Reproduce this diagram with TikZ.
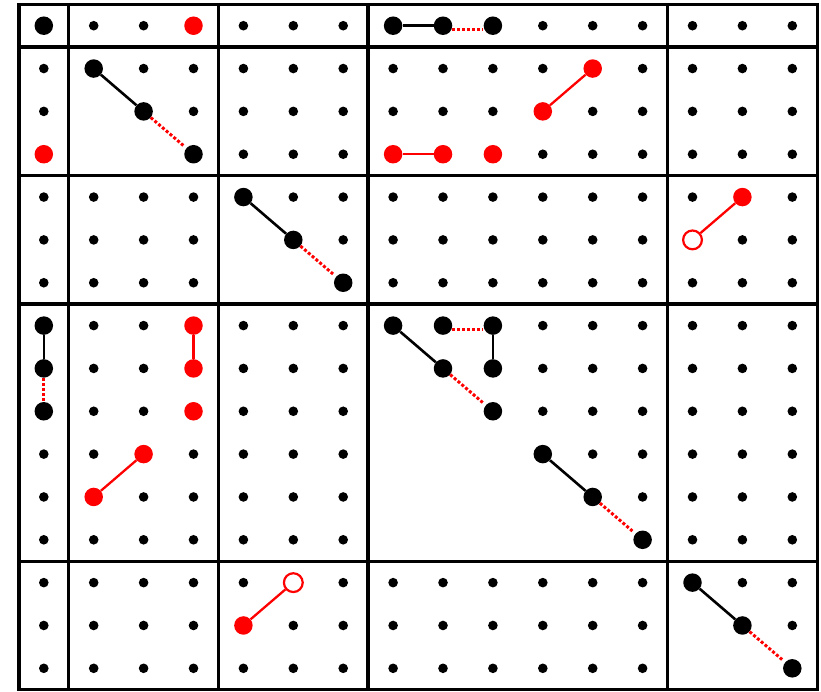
\documentclass[tikz,border=0pt]{standalone}
\usepackage{tikz}
\usetikzlibrary{positioning}
\definecolor{dotred}{HTML}{FF0000}

\begin{document}
\begin{tikzpicture}[
    x=49.9pt,y=-42.84pt,
    blk/.style={circle,fill=black,inner sep=0pt,minimum size=18.5pt},
    redd/.style={circle,fill=dotred,inner sep=0pt,minimum size=18.5pt},
    hollow/.style={circle,draw=dotred,fill=white,line width=2.2pt,inner sep=0pt,minimum size=18.8pt},
    link/.style={line width=2.6pt,draw=black},
    redlink/.style={line width=2.3pt,draw=dotred},
    dotlink/.style={line width=3pt,draw=dotred,dash pattern=on 3pt off 2pt},
    diagdot/.style={dotlink,shorten >=4pt},
    gridline/.style={line width=3.4pt,line cap=rect}
  ]
    \useasboundingbox (-0.8778,-0.6) rectangle (15.575,15.53);
    % small entries, lower part of diagonal blocks left empty
    \foreach \r in {0,...,15}{
      \foreach \c in {0,...,15}{
        \pgfmathtruncatemacro\br{(\r>=1)+(\r>=4)+(\r>=7)+(\r>=13)}
        \pgfmathtruncatemacro\bc{(\c>=1)+(\c>=4)+(\c>=7)+(\c>=13)}
        \pgfmathtruncatemacro\skipit{and(\br==\bc,\r>\c)}
        \ifnum\skipit=0 \fill (\c,\r) circle (4.8pt); \fi
      }
    }
    % block lines
    \foreach \k in {0,1,4,7,13,16}{
      \draw[gridline] (\k-0.5,-0.5) -- (\k-0.5,15.5);
      \draw[gridline] (-0.5,\k-0.5) -- (15.5,\k-0.5);
    }
    % black entries
    \node[blk] (a0) at (0,0) {};
    \node[blk] (k1) at (7,0) {};
    \node[blk] (k2) at (8,0) {};
    \node[blk] (k3) at (9,0) {};
    \node[blk] (b1) at (1,1) {};
    \node[blk] (b2) at (2,2) {};
    \node[blk] (b3) at (3,3) {};
    \node[blk] (c1) at (4,4) {};
    \node[blk] (c2) at (5,5) {};
    \node[blk] (c3) at (6,6) {};
    \node[blk] (d1) at (0,7) {};
    \node[blk] (d2) at (0,8) {};
    \node[blk] (d3) at (0,9) {};
    \node[blk] (e1) at (7,7) {};
    \node[blk] (e2) at (8,7) {};
    \node[blk] (e3) at (9,7) {};
    \node[blk] (e4) at (8,8) {};
    \node[blk] (e5) at (9,8) {};
    \node[blk] (e6) at (9,9) {};
    \node[blk] (e7) at (10,10) {};
    \node[blk] (e8) at (11,11) {};
    \node[blk] (e9) at (12,12) {};
    \node[blk] (f1) at (13,13) {};
    \node[blk] (f2) at (14,14) {};
    \node[blk] (f3) at (15,15) {};
    % red entries
    \node[redd] (r1) at (3,0) {};
    \node[redd] (r2) at (0,3) {};
    \node[redd] (r3) at (11,1) {};
    \node[redd] (r4) at (10,2) {};
    \node[redd] (r5) at (7,3) {};
    \node[redd] (r6) at (8,3) {};
    \node[redd] (r7) at (9,3) {};
    \node[redd] (r8) at (14,4) {};
    \node[hollow] (o1) at (13,5) {};
    \node[redd] (r9) at (3,7) {};
    \node[redd] (r10) at (3,8) {};
    \node[redd] (r11) at (3,9) {};
    \node[redd] (r12) at (2,10) {};
    \node[redd] (r13) at (1,11) {};
    \node[hollow] (o2) at (5,13) {};
    \node[redd] (r14) at (4,14) {};
    % links
    \draw[link] (k1) -- (k2);
    \draw[dotlink,transform canvas={yshift=-3.5pt}] (k2) -- (k3);
    \draw[link] (b1) -- (b2);
    \draw[diagdot] (b2) -- (b3);
    \draw[link] (c1) -- (c2);
    \draw[diagdot] (c2) -- (c3);
    \draw[link] (d1) -- (d2);
    \draw[dotlink] (d2) -- (d3);
    \draw[link] (e1) -- (e4);
    \draw[diagdot] (e4) -- (e6);
    \draw[dotlink,transform canvas={yshift=-3.5pt}] (e2) -- (e3);
    \draw[link] (e3) -- (e5);
    \draw[link] (e7) -- (e8);
    \draw[diagdot] (e8) -- (e9);
    \draw[link] (f1) -- (f2);
    \draw[diagdot] (f2) -- (f3);
    \draw[redlink] (r3) -- (r4);
    \draw[redlink] (r5) -- (r6);
    \draw[redlink] (r8) -- (o1);
    \draw[redlink] (r9) -- (r10);
    \draw[redlink] (r12) -- (r13);
    \draw[redlink] (o2) -- (r14);
  \end{tikzpicture}
\end{document}
